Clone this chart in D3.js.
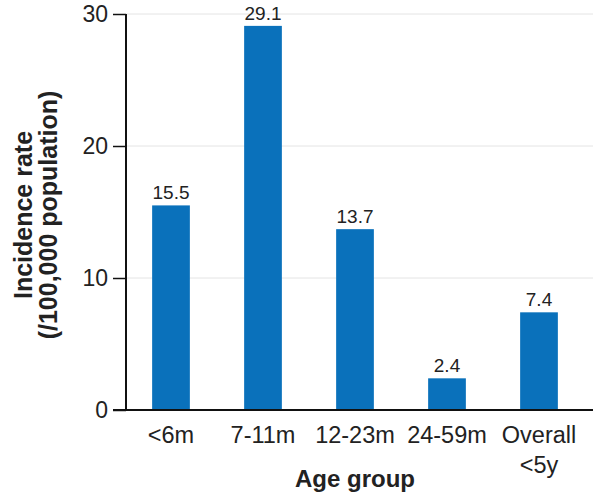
<!DOCTYPE html>
<html><head><meta charset="utf-8">
<script src="https://cdn.jsdelivr.net/npm/d3@7"></script>
<style>body{margin:0;background:#fff;} text{font-family:"Liberation Sans",Arial,sans-serif;}</style>
</head><body>
<svg id="c" width="597" height="495"></svg>
<script>
const categories = [["<6m"],["7-11m"],["12-23m"],["24-59m"],["Overall","<5y"]];
const values = [15.5, 29.1, 13.7, 2.4, 7.4];
const yTicks = [0, 10, 20, 30];
const xTitle = "Age group";
const yTitle = ["Incidence rate", "(/100,000 population)"];

const svg = d3.select("#c");
const keys = categories.map(c => c.join(" "));
const x = d3.scaleBand().domain(keys).range([125, 585]).paddingInner(0.59).paddingOuter(0.295);
const y = d3.scaleLinear().domain([0, 30]).range([410, 14]);

// gridlines
svg.append("g").selectAll("line").data(yTicks.filter(t => t > 0)).join("line")
  .attr("x1", 126).attr("x2", 593).attr("y1", d => y(d)).attr("y2", d => y(d))
  .attr("stroke", "#e4e4e4").attr("stroke-width", 1);

// bars
svg.append("g").selectAll("rect").data(values).join("rect")
  .attr("x", (d, i) => x(keys[i])).attr("width", x.bandwidth())
  .attr("y", d => y(d)).attr("height", d => y(0) - y(d))
  .attr("fill", "#0a71bb");

// value labels
svg.append("g").selectAll("text").data(values).join("text")
  .attr("x", (d, i) => x(keys[i]) + x.bandwidth() / 2).attr("y", d => y(d) - 6)
  .attr("text-anchor", "middle").attr("font-size", 19).attr("fill", "#222")
  .text(d => d.toFixed(1));

// y axis
const ya = svg.append("g").attr("transform", "translate(126,0)")
  .call(d3.axisLeft(y).tickValues(yTicks).tickSize(13).tickPadding(5).tickFormat(d3.format("d")));
ya.select(".domain").attr("stroke", "#111").attr("stroke-width", 2).attr("d", "M0,410V14");
ya.selectAll(".tick line").attr("stroke", "#111").attr("stroke-width", 1.5);
ya.selectAll(".tick text").attr("font-size", 23).attr("fill", "#222").attr("font-family", "Liberation Sans, Arial, sans-serif");

// x axis line
svg.append("line").attr("x1", 113).attr("x2", 593).attr("y1", y(0)).attr("y2", y(0))
  .attr("stroke", "#111").attr("stroke-width", 2);

// category labels
const cl = svg.append("g").selectAll("text").data(categories).join("text")
  .attr("text-anchor", "middle").attr("font-size", 23.5).attr("fill", "#222")
  .attr("x", (d, i) => x(keys[i]) + x.bandwidth() / 2).attr("y", 443);
cl.selectAll("tspan").data(d => d).join("tspan")
  .attr("x", function() { return d3.select(this.parentNode).attr("x"); })
  .attr("dy", (d, i) => i === 0 ? 0 : 30).text(d => d);

// x title
svg.append("text").attr("x", 355).attr("y", 487).attr("text-anchor", "middle")
  .attr("font-size", 24).attr("font-weight", "bold").attr("fill", "#222").text(xTitle);

// y title
const yt = svg.append("text").attr("transform", "translate(32,215) rotate(-90)")
  .attr("text-anchor", "middle").attr("font-size", 25).attr("font-weight", "bold").attr("fill", "#222");
yt.selectAll("tspan").data(yTitle).join("tspan").attr("x", 0).attr("dy", (d, i) => i === 0 ? 0 : 25).text(d => d);
</script>
</body></html>
